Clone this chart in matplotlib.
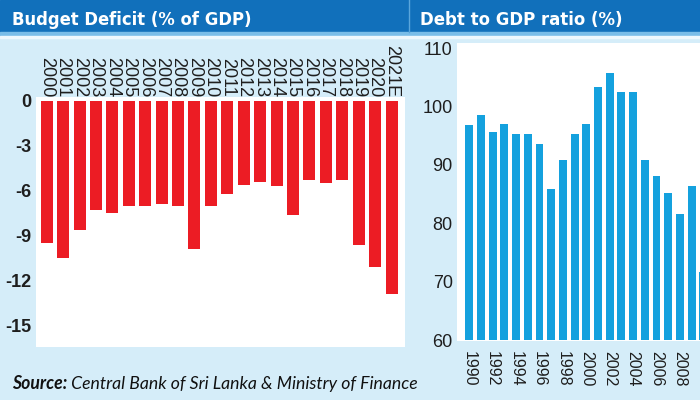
import matplotlib
matplotlib.use("Agg")
import matplotlib.pyplot as plt
import matplotlib.font_manager as fm
from matplotlib.patches import Rectangle
from matplotlib.lines import Line2D

# ---------------- data ----------------
deficit_years = ['2000', '2001', '2002', '2003', '2004', '2005', '2006', '2007',
                 '2008', '2009', '2010', '2011', '2012', '2013', '2014', '2015',
                 '2016', '2017', '2018', '2019', '2020', '2021E']
deficit = [-9.5, -10.5, -8.6, -7.3, -7.5, -7.0, -7.0, -6.9, -7.0, -9.9, -7.0,
           -6.2, -5.6, -5.4, -5.7, -7.6, -5.3, -5.5, -5.3, -9.6, -11.1, -12.9]
deficit_ticks = [0, -3, -6, -9, -12, -15]

debt_years = ['1990', '1991', '1992', '1993', '1994', '1995', '1996', '1997',
              '1998', '1999', '2000', '2001', '2002', '2003', '2004', '2005',
              '2006', '2007', '2008', '2009', '2010']
debt = [96.8, 98.6, 95.6, 97.0, 95.3, 95.3, 93.5, 85.9, 90.9, 95.3, 97.0,
        103.4, 105.8, 102.5, 102.5, 90.8, 88.1, 85.1, 81.5, 86.4, 71.7]
debt_ticks = [60, 70, 80, 90, 100, 110]

title_left = "Budget Deficit (% of GDP)"
title_right = "Debt to GDP ratio (%)"
source_bold = "Source:"
source_rest = " Central Bank of Sri Lanka & Ministry of Finance"

# ---------------- fonts ----------------
names = {f.name for f in fm.fontManager.ttflist}
SANS = 'Liberation Sans' if 'Liberation Sans' in names else 'DejaVu Sans'
ITAL = 'Lato' if 'Lato' in names else SANS


def title_font():
    # prefer a narrow / condensed bold face
    for f in fm.fontManager.ttflist:
        if f.name == 'Liberation Sans Narrow' and f.weight in (700, 'bold') \
                and f.style == 'normal':
            return fm.FontProperties(fname=f.fname)
    for f in fm.fontManager.ttflist:
        if 'condensed' in str(f.stretch).lower() or 'Condensed' in f.fname:
            if f.weight in (700, 'bold') and f.style == 'normal' and 'Sans' in f.name \
                    and 'Mono' not in f.name:
                return fm.FontProperties(fname=f.fname)
    return fm.FontProperties(family=SANS, weight='bold')


TFONT = title_font()

BG = '#d5edf9'
BAND = '#1170bb'
RED = '#ec1c24'
CYAN = '#14a1de'
TXT = '#1e1e1e'

W, H = 700, 400
fig = plt.figure(figsize=(7, 4), dpi=100, facecolor=BG)


def px(x0, y0, x1, y1):
    """pixel box (top-left origin) -> figure fraction rect"""
    return [x0 / W, 1 - y1 / H, (x1 - x0) / W, (y1 - y0) / H]


# header band
fig.patches.append(Rectangle((0, 1 - 32 / H), 1, 32 / H, transform=fig.transFigure,
                             color=BAND, zorder=0))
fig.patches.append(Rectangle((0, 1 - 36 / H), 1, 4 / H, transform=fig.transFigure,
                             color='#79bde8', zorder=0))
fig.patches.append(Rectangle((0, 1 - 38 / H), 1, 2 / H, transform=fig.transFigure,
                             color='#eef8fd', zorder=0))
fig.lines.append(Line2D([409 / W, 409 / W], [1 - 32 / H, 1], transform=fig.transFigure,
                        color='#5aa6dc', lw=1.0))

# ---------------- left: budget deficit ----------------
ax1 = fig.add_axes(px(36, 97, 405, 347))
ax1.set_facecolor('white')
xs = list(range(len(deficit)))
ax1.bar(xs, deficit, width=0.73, color=RED, zorder=2)
ax1.set_xlim(-0.65, 21.82)
ax1.set_ylim(-16.4, 0.25)
ax1.set_yticks(deficit_ticks)
ax1.set_yticklabels([str(t) for t in deficit_ticks], fontfamily=SANS,
                    fontweight='bold', fontsize=13, color=TXT)
ax1.xaxis.tick_top()
ax1.set_xticks(xs)
ax1.set_xticklabels(deficit_years, rotation=-90, fontfamily=SANS, fontsize=13,
                    color=TXT)
ax1.tick_params(axis='both', length=0)
ax1.tick_params(axis='y', pad=3)
ax1.tick_params(axis='x', pad=0)
for s in ax1.spines.values():
    s.set_visible(False)

# ---------------- right: debt to GDP ----------------
ax2 = fig.add_axes(px(457, 43, 710.3, 341))
ax2.set_facecolor('white')
xs2 = list(range(len(debt)))
ax2.bar(xs2, [d - 60 for d in debt], bottom=60, width=0.68, color=CYAN, zorder=2)
ax2.set_xlim(-1.05, 20.6)
ax2.set_ylim(59.83, 110.86)
ax2.set_yticks(debt_ticks)
ax2.set_yticklabels([str(t) for t in debt_ticks], fontfamily=SANS, fontsize=13,
                    color=TXT)
ax2.set_xticks(xs2[::2])
ax2.set_xticklabels(debt_years[::2], rotation=-90, fontfamily=SANS, fontsize=11.5,
                    color=TXT)
ax2.tick_params(axis='both', length=0)
ax2.tick_params(axis='y', pad=3)
ax2.tick_params(axis='x', pad=7)
for s in ax2.spines.values():
    s.set_visible(False)

# ---------------- titles ----------------
renderer = fig.canvas.get_renderer()


def fit_text(x, y, s, width_px, size, max_size):
    fp = TFONT.copy()
    fp.set_size(size)
    t = fig.text(x / W, 1 - y / H, s, color='white', va='baseline', ha='left',
                 fontproperties=fp)
    w = t.get_window_extent(renderer).width
    t.set_fontsize(min(size * width_px / w, max_size))
    return t


fit_text(12, 25, title_left, 240, 17, 17.5)
fit_text(420, 25, title_right, 202, 17, 17.5)

# ---------------- source ----------------
size = 11.5
t1 = fig.text(12 / W, 1 - 389 / H, source_bold, fontfamily=ITAL, fontweight='bold',
              fontstyle='italic', fontsize=size, color='#111111', va='baseline')
t2 = fig.text(0, 1 - 389 / H, source_rest, fontfamily=ITAL, fontstyle='italic',
              fontsize=size, color='#111111', va='baseline')
w1 = t1.get_window_extent(renderer).width
w2 = t2.get_window_extent(renderer).width
scale = 405 / (w1 + w2)
t1.set_fontsize(size * scale)
t2.set_fontsize(size * scale)
w1 = t1.get_window_extent(renderer).width
t2.set_x((12 + w1) / W)

fig.savefig('out.png', dpi=100, facecolor=BG)
